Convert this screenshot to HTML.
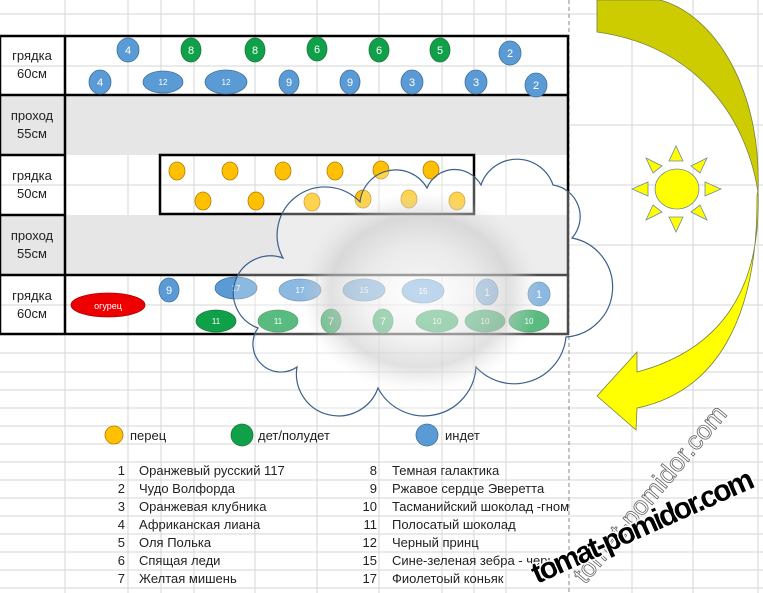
<!DOCTYPE html>
<html><head><meta charset="utf-8"><style>
html,body{margin:0;padding:0;background:#fff;}
svg{display:block;}
text{font-family:"Liberation Sans","DejaVu Sans",sans-serif;}
</style></head><body>
<svg width="763" height="593" viewBox="0 0 763 593" xmlns="http://www.w3.org/2000/svg">
<defs>
<radialGradient id="cg" cx="0.5" cy="0.5" r="0.5">
<stop offset="0" stop-color="#ffffff" stop-opacity="0.45"/>
<stop offset="0.45" stop-color="#e8e8e8" stop-opacity="0.5"/>
<stop offset="0.75" stop-color="#c8c8c8" stop-opacity="0.55"/>
<stop offset="1" stop-color="#dddddd" stop-opacity="0"/>
</radialGradient>
</defs>
<!-- grid -->
<g stroke="#d6d6d6" stroke-width="1">
<line x1="128" y1="0" x2="128" y2="593"/><line x1="161" y1="0" x2="161" y2="593"/>
<line x1="194" y1="0" x2="194" y2="593"/><line x1="255" y1="0" x2="255" y2="593"/>
<line x1="317" y1="0" x2="317" y2="593"/><line x1="379" y1="0" x2="379" y2="593"/>
<line x1="442" y1="0" x2="442" y2="593"/><line x1="474" y1="0" x2="474" y2="593"/>
<line x1="506" y1="0" x2="506" y2="593"/><line x1="632" y1="0" x2="632" y2="593"/>
<line x1="693" y1="0" x2="693" y2="593"/><line x1="758" y1="0" x2="758" y2="593"/>
<line x1="65" y1="0" x2="65" y2="593"/>
<line x1="0" y1="14" x2="763" y2="14"/>
<line x1="0" y1="66" x2="763" y2="66"/><line x1="0" y1="125" x2="763" y2="125"/>
<line x1="0" y1="185" x2="763" y2="185"/><line x1="0" y1="245" x2="763" y2="245"/>
<line x1="0" y1="305" x2="763" y2="305"/>
<line x1="0" y1="353" x2="763" y2="353"/><line x1="0" y1="372" x2="763" y2="372"/>
<line x1="0" y1="390" x2="763" y2="390"/><line x1="0" y1="408" x2="763" y2="408"/>
<line x1="0" y1="426" x2="763" y2="426"/><line x1="0" y1="444" x2="763" y2="444"/>
<line x1="0" y1="462" x2="763" y2="462"/><line x1="0" y1="480" x2="763" y2="480"/>
<line x1="0" y1="498" x2="763" y2="498"/><line x1="0" y1="516" x2="763" y2="516"/>
<line x1="0" y1="534" x2="763" y2="534"/><line x1="0" y1="552" x2="763" y2="552"/>
<line x1="0" y1="570" x2="763" y2="570"/><line x1="0" y1="588" x2="763" y2="588"/>
</g>
<line x1="569" y1="0" x2="569" y2="593" stroke="#888" stroke-dasharray="4,3"/>
<!-- passages -->
<rect x="0" y="95" width="568" height="60" fill="#e6e6e6"/>
<rect x="0" y="215" width="568" height="60" fill="#e6e6e6"/>
<rect x="160" y="155" width="314" height="59" fill="#fff"/>
<g stroke="#d6d6d6"><line x1="160" y1="185" x2="474" y2="185"/><line x1="194" y1="155" x2="194" y2="214"/><line x1="255" y1="155" x2="255" y2="214"/><line x1="317" y1="155" x2="317" y2="214"/><line x1="379" y1="155" x2="379" y2="214"/><line x1="442" y1="155" x2="442" y2="214"/></g>
<!-- borders -->
<g stroke="#000" stroke-width="2.5" fill="none">
<rect x="0" y="36" width="568" height="298"/>
<line x1="0" y1="95" x2="568" y2="95"/><line x1="0" y1="275" x2="568" y2="275"/>
<line x1="0" y1="155" x2="65" y2="155"/><line x1="0" y1="215" x2="65" y2="215"/>
<line x1="65" y1="36" x2="65" y2="334"/>
<rect x="160" y="155" width="314" height="59"/>
</g>
<g font-size="13" text-anchor="middle" fill="#222">
<text x="32" y="60">грядка</text><text x="32" y="78">60см</text>
<text x="32" y="120">проход</text><text x="32" y="138">55см</text>
<text x="32" y="180">грядка</text><text x="32" y="198">50см</text>
<text x="32" y="240">проход</text><text x="32" y="258">55см</text>
<text x="32" y="300">грядка</text><text x="32" y="318">60см</text>
</g>
<!-- plants -->
<g stroke="#41719c" stroke-width="0.8" fill="#5b9bd5">
<ellipse cx="128" cy="50" rx="11" ry="12"/><ellipse cx="510" cy="53" rx="11" ry="12"/>
<ellipse cx="100" cy="82" rx="11" ry="12"/><ellipse cx="163" cy="82" rx="20" ry="11"/>
<ellipse cx="226" cy="82" rx="21" ry="12"/><ellipse cx="289" cy="82" rx="10" ry="12"/>
<ellipse cx="350" cy="82" rx="10" ry="12"/><ellipse cx="412" cy="82" rx="11" ry="12"/>
<ellipse cx="476" cy="82" rx="11" ry="12"/><ellipse cx="536" cy="85" rx="11" ry="12"/>
<ellipse cx="169" cy="290" rx="10" ry="12"/><ellipse cx="236" cy="288" rx="21" ry="11"/>
<ellipse cx="300" cy="290" rx="21" ry="11"/><ellipse cx="364" cy="290" rx="21" ry="11"/>
<ellipse cx="423" cy="291" rx="21" ry="12"/><ellipse cx="487" cy="292" rx="11" ry="13"/>
<ellipse cx="539" cy="294" rx="11" ry="12"/>
<ellipse cx="427" cy="435" rx="11" ry="11"/>
</g>
<g stroke="#1a7a3a" stroke-width="0.8" fill="#10a04a">
<ellipse cx="191" cy="50" rx="10" ry="12"/><ellipse cx="255" cy="50" rx="10" ry="12"/>
<ellipse cx="317" cy="49" rx="10" ry="12"/><ellipse cx="379" cy="50" rx="10" ry="12"/>
<ellipse cx="440" cy="50" rx="10" ry="12"/>
<ellipse cx="216" cy="321" rx="20" ry="11"/><ellipse cx="278" cy="321" rx="20" ry="11"/>
<ellipse cx="331" cy="321" rx="10" ry="12"/><ellipse cx="383" cy="321" rx="10" ry="12"/>
<ellipse cx="437" cy="321" rx="21" ry="11"/><ellipse cx="485" cy="321" rx="20" ry="11"/>
<ellipse cx="529" cy="321" rx="20" ry="11"/>
<ellipse cx="242" cy="435" rx="11" ry="11"/>
</g>
<g stroke="#b07d00" stroke-width="0.8" fill="#ffc000">
<ellipse cx="177" cy="171" rx="8" ry="9"/><ellipse cx="230" cy="171" rx="8" ry="9"/>
<ellipse cx="283" cy="171" rx="8" ry="9"/><ellipse cx="335" cy="171" rx="8" ry="9"/>
<ellipse cx="381" cy="170" rx="8" ry="9"/><ellipse cx="431" cy="170" rx="8" ry="9"/>
<ellipse cx="203" cy="201" rx="8" ry="9"/><ellipse cx="256" cy="201" rx="8" ry="9"/>
<ellipse cx="312" cy="202" rx="8" ry="9"/><ellipse cx="363" cy="199" rx="8" ry="9"/>
<ellipse cx="409" cy="199" rx="8" ry="9"/><ellipse cx="457" cy="201" rx="8" ry="9"/>
<ellipse cx="114" cy="435" rx="9" ry="9"/>
</g>
<ellipse cx="108" cy="305" rx="37" ry="12" fill="#ee0000" stroke="#a00" stroke-width="0.8"/>
<text x="108" y="309" font-size="9" fill="#fff" text-anchor="middle">огурец</text>
<g font-size="11" fill="#fff" text-anchor="middle">
<text x="128" y="54">4</text><text x="191" y="54">8</text><text x="255" y="54">8</text>
<text x="317" y="53">6</text><text x="379" y="54">6</text><text x="440" y="54">5</text>
<text x="510" y="57">2</text><text x="100" y="86">4</text><text x="289" y="86">9</text>
<text x="350" y="86">9</text><text x="412" y="86">3</text><text x="476" y="86">3</text>
<text x="536" y="89">2</text><text x="169" y="294">9</text><text x="487" y="296">1</text>
<text x="539" y="298">1</text><text x="331" y="325">7</text><text x="383" y="325">7</text>
</g>
<g font-size="8" fill="#fff" text-anchor="middle">
<text x="163" y="85">12</text><text x="226" y="85">12</text>
<text x="236" y="291">17</text><text x="300" y="293">17</text><text x="364" y="293">15</text><text x="423" y="294">15</text>
<text x="216" y="324">11</text><text x="278" y="324">11</text><text x="437" y="324">10</text><text x="485" y="324">10</text><text x="529" y="324">10</text>
</g>
<!-- cloud -->
<path d="M283,258 A48,48 0 0 1 360,202 A36,36 0 0 1 427,188 A30,30 0 0 1 481,185 A38,38 0 0 1 553,185 A32,32 0 0 1 572,238 A50,50 0 0 1 566,337 A52,52 0 0 1 476,367 A52,52 0 0 1 378,388 A42,42 0 0 1 297,367 A28,28 0 0 1 258,328 A36,36 0 0 1 283,258 Z" fill="#ffffff" fill-opacity="0.3" stroke="#3b5f8a" stroke-width="1.2"/>
<ellipse cx="420" cy="292" rx="120" ry="100" fill="url(#cg)"/>
<!-- legend -->
<g font-size="13" fill="#222">
<text x="130" y="440">перец</text><text x="258" y="440">дет/полудет</text><text x="445" y="440">индет</text>
</g>
<g font-size="13" fill="#222">
<g text-anchor="end">
<text x="125" y="475">1</text><text x="125" y="493">2</text><text x="125" y="511">3</text><text x="125" y="529">4</text><text x="125" y="547">5</text><text x="125" y="565">6</text><text x="125" y="583">7</text>
<text x="377" y="475">8</text><text x="377" y="493">9</text><text x="377" y="511">10</text><text x="377" y="529">11</text><text x="377" y="547">12</text><text x="377" y="565">15</text><text x="377" y="583">17</text>
</g>
<text x="139" y="475">Оранжевый русский 117</text><text x="139" y="493">Чудо Волфорда</text>
<text x="139" y="511">Оранжевая клубника</text><text x="139" y="529">Африканская лиана</text>
<text x="139" y="547">Оля Полька</text><text x="139" y="565">Спящая леди</text><text x="139" y="583">Желтая мишень</text>
<text x="392" y="475">Темная галактика</text><text x="392" y="493">Ржавое сердце Эверетта</text>
<text x="392" y="511" textLength="177">Тасманийский шоколад -гном</text><text x="392" y="529">Полосатый шоколад</text>
<text x="392" y="547">Черный принц</text><text x="392" y="565">Сине-зеленая зебра - черн</text><text x="392" y="583">Фиолетоый коньяк</text>
</g>
<!-- arrow -->
<path d="M597,0 L660,0 C715,15 762,90 758,192 C745,110 690,45 597,32 Z" fill="#cccc00" stroke="#7a8040" stroke-width="0.8"/>
<path d="M758,190 C762,290 720,350 637,372 L637,352 L597,396 L636,430 L637,408 C715,392 758,320 757,196 Z" fill="#ffff00" stroke="#7a8040" stroke-width="0.8"/>
<!-- sun -->
<g fill="#ffff00" stroke="#6f8aa0" stroke-width="0.8">
<ellipse cx="677" cy="189" rx="22" ry="20"/>
<polygon points="676,146 669,161 683,161"/>
<polygon points="676,232 669,217 683,217"/>
<polygon points="632,189 648,182 648,196"/>
<polygon points="721,189 705,182 705,196"/>
<polygon points="646,158 662,166 653,173"/>
<polygon points="707,158 691,166 700,173"/>
<polygon points="646,220 662,212 653,205"/>
<polygon points="707,220 691,212 700,205"/>
</g>
<!-- watermarks -->
<text x="0" y="0" transform="translate(585,585) rotate(-50)" font-size="26" fill="#fff" stroke="#666" stroke-width="0.8">tomat-pomidor.com</text>
<text x="0" y="0" transform="translate(537,584) rotate(-24)" font-size="30" font-weight="bold" fill="#000" stroke="#fff" stroke-width="3" paint-order="stroke" textLength="240">tomat-pomidor.com</text>
</svg>
</body></html>
